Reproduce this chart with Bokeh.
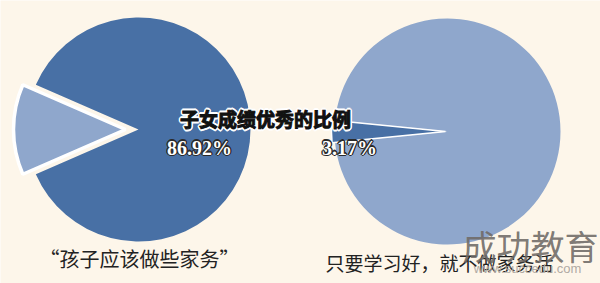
import numpy as np
from bokeh.plotting import figure
from bokeh.models import Range1d
from bokeh.core.properties import value
from bokeh.embed import file_html
from bokeh.resources import INLINE

# Data
title = "子女成绩优秀的比例"
left_values = [86.92, 13.08]          # 孩子应该做些家务
right_values = [3.17, 96.83]          # 只要学习好，就不做家务活
left_caption = "“孩子应该做些家务”"
right_caption = "只要学习好，就不做家务活"
pct_labels = ["86.92%", "3.17%"]

DARK = "#4870a5"
LIGHT = "#8fa7cc"
BG = "#fdf6ea"

p = figure(width=600, height=283, output_backend="svg", toolbar_location=None,
           x_range=Range1d(0, 600), y_range=Range1d(283, 0), min_border=0)
p.axis.visible = False
p.grid.visible = False
p.outline_line_color = None
p.background_fill_color = BG
p.border_fill_color = BG

# Left pie
lcx, lcy, r = 138, 129, 112
half = np.pi * left_values[1] / 100.0
p.wedge(x=[lcx], y=[lcy], radius=r, start_angle=[np.pi + half], end_angle=[np.pi - half + 2 * np.pi],
        fill_color=DARK, line_color=None)
p.wedge(x=[lcx - 13], y=[lcy], radius=r, start_angle=[np.pi - half], end_angle=[np.pi + half],
        fill_color=LIGHT, line_color="white", line_width=3.5)

# Right pie
rcx, rcy, rr = 447, 131, 113
half2 = np.pi * right_values[0] / 100.0
p.wedge(x=[rcx], y=[rcy], radius=rr, start_angle=[np.pi + half2], end_angle=[np.pi - half2 + 2 * np.pi],
        fill_color=LIGHT, line_color=None)
p.wedge(x=[rcx - 2], y=[rcy], radius=rr + 1, start_angle=[np.pi - half2], end_angle=[np.pi + half2],
        fill_color=DARK, line_color="white", line_width=1.5)

# halo offsets
offs = [(-1.6, 0), (1.6, 0), (0, -1.6), (0, 1.6), (-1.1, -1.1), (1.1, -1.1), (-1.1, 1.1), (1.1, 1.1)]
xo = [o[0] for o in offs]
yo = [o[1] for o in offs]

# Title: white halo, then heavy black text
tx, ty = 265, 118
p.text(x=[tx] * len(offs), y=[ty] * len(offs), text=[title] * len(offs), x_offset=xo, y_offset=yo,
       text_font=value("Noto Sans CJK SC"), text_font_size="19px", text_font_style="bold",
       text_align="center", text_baseline="middle", text_color="white", text_outline_color="white")
p.text(x=[tx], y=[ty], text=[title], text_font=value("Noto Sans CJK SC"),
       text_font_size="19px", text_font_style="bold", text_align="center", text_baseline="middle",
       text_color="#111111", text_outline_color="#111111")

# Percent labels: dark halo, white text
px = [199, 349]
py = [147, 147]
hx, hy, ht, hxo, hyo = [], [], [], [], []
for i in range(len(pct_labels)):
    for o in offs:
        hx.append(px[i]); hy.append(py[i]); ht.append(pct_labels[i])
        hxo.append(o[0] * 0.8); hyo.append(o[1] * 0.8)
p.text(x=hx, y=hy, text=ht, x_offset=hxo, y_offset=hyo, text_font=value("Liberation Serif"),
       text_font_size="20px", text_font_style="bold", text_align="center", text_baseline="middle",
       text_color="#2a2a2a")
p.text(x=px, y=py, text=pct_labels, text_font=value("Liberation Serif"),
       text_font_size="20px", text_font_style="bold", text_align="center", text_baseline="middle",
       text_color="white")

# Captions
p.text(x=[139], y=[258], text=[left_caption], text_font=value("Noto Sans CJK SC"),
       text_font_size="20px", text_align="center", text_baseline="middle", text_color="#222222")
p.text(x=[325], y=[262], text=[right_caption], text_font=value("Noto Sans CJK SC"),
       text_font_size="19px", text_align="left", text_baseline="middle", text_color="#222222")

# Watermark
p.text(x=[530], y=[245], text=["成功教育"], text_font=value("Noto Sans CJK SC"),
       text_font_size="34px", text_align="center", text_baseline="middle", text_color="#6f6a66",
       text_alpha=0.9)
p.text(x=[527], y=[268], text=["www.succedu.com"], text_font=value("Liberation Sans"),
       text_font_size="13px", text_align="center", text_baseline="middle", text_color="#b0aaa4")

open("out.html", "w").write(file_html(p, INLINE))
